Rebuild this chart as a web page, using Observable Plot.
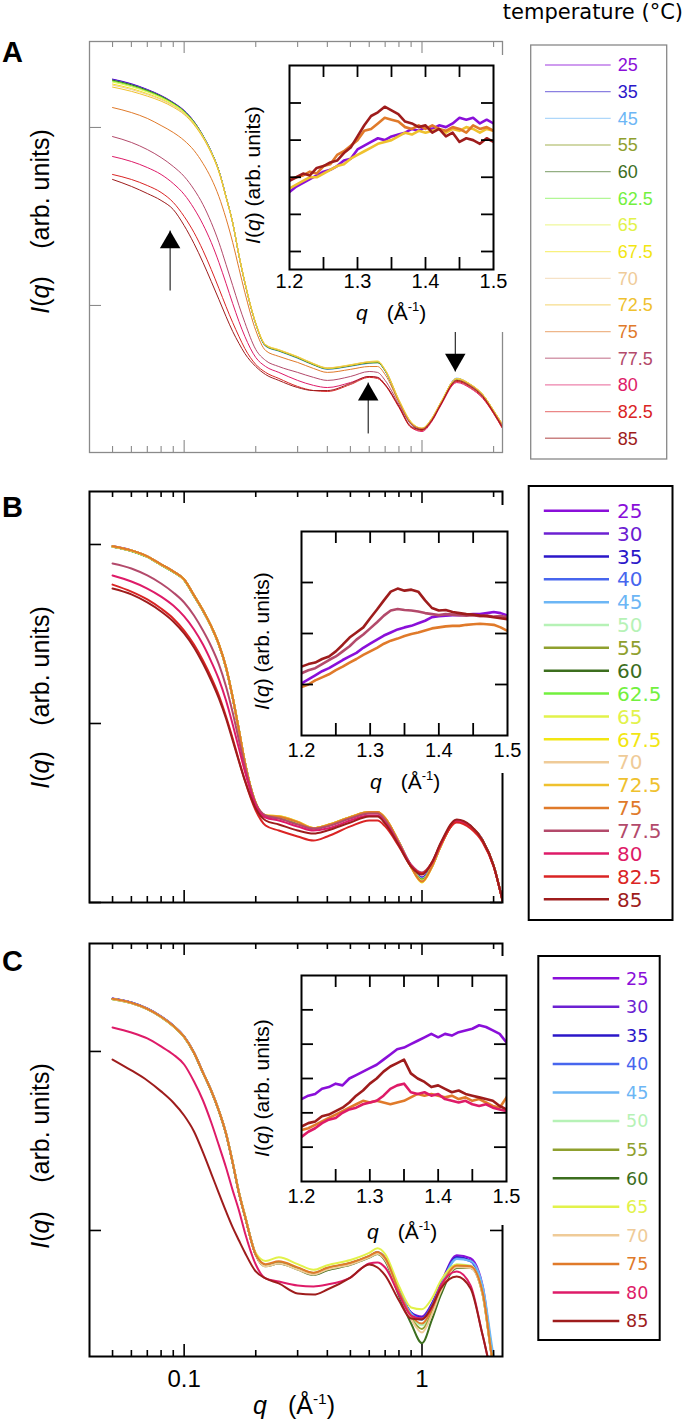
<!DOCTYPE html>
<html><head><meta charset="utf-8">
<script src="https://cdn.jsdelivr.net/npm/d3@7"></script>
<script src="https://cdn.jsdelivr.net/npm/@observablehq/plot@0.6"></script>
<style>
body{margin:0;background:#fff;}
#fig{position:relative;width:686px;height:1424px;overflow:hidden;background:#fff;}
</style></head><body><div id="fig"></div>
<script>
// ---------- DATA ----------
const qMain = [0.05,0.06,0.07,0.08,0.09,0.1,0.11,0.12,0.13,0.14,0.15,0.16,0.17,0.18,0.2,0.22,0.25,0.3,0.35,0.4,0.5,0.6,0.65,0.7,0.8,0.9,1.0,1.1,1.2,1.4,1.6,1.8,2.0,2.18];
const qIn = [1.20,1.21,1.22,1.23,1.24,1.25,1.26,1.27,1.28,1.29,1.30,1.31,1.32,1.33,1.34,1.35,1.36,1.37,1.38,1.39,1.40,1.41,1.42,1.43,1.44,1.45,1.46,1.47,1.48,1.49,1.50];

const tempsA = ["25","35","45","55","60","62.5","65","67.5","70","72.5","75","77.5","80","82.5","85"];
const tempsB = ["25","30","35","40","45","50","55","60","62.5","65","67.5","70","72.5","75","77.5","80","82.5","85"];
const tempsC = ["25","30","35","40","45","50","55","60","65","70","75","80","85"];

const colors = {"25":"#8a0fd9","30":"#6c21d2","35":"#2b17c9","40":"#4766ee","45":"#6cb6f5","50":"#b6f2b6","55":"#8fa02e","60":"#3c6e1e","62.5":"#72f03e","65":"#e2f24a","67.5":"#f2e612","70":"#efcb98","72.5":"#efc12e","75":"#e07a2a","77.5":"#b34a6b","80":"#de1b68","82.5":"#da2424","85":"#9e1c1c"};

// Panel A: log10 I(q), arbitrary units
const A_25  = [2.272,2.246,2.214,2.180,2.141,2.096,2.034,1.955,1.865,1.758,1.612,1.466,1.281,1.129,0.899,0.775,0.747,0.708,0.669,0.646,0.663,0.680,0.680,0.635,0.466,0.343,0.309,0.365,0.455,0.590,0.556,0.500,0.410,0.331];
const A_35  = [2.270,2.244,2.212,2.178,2.139,2.094,2.033,1.954,1.864,1.757,1.611,1.465,1.281,1.128,0.898,0.772,0.745,0.705,0.667,0.643,0.660,0.677,0.682,0.633,0.463,0.340,0.306,0.362,0.452,0.586,0.553,0.497,0.407,0.328];
const A_45  = [2.266,2.240,2.209,2.176,2.137,2.092,2.031,1.953,1.863,1.756,1.611,1.464,1.280,1.128,0.897,0.770,0.743,0.703,0.665,0.641,0.658,0.675,0.678,0.630,0.460,0.338,0.304,0.359,0.450,0.592,0.551,0.495,0.405,0.326];
const A_55  = [2.263,2.237,2.206,2.174,2.135,2.090,2.029,1.951,1.862,1.755,1.610,1.464,1.280,1.127,0.897,0.773,0.746,0.706,0.667,0.645,0.662,0.678,0.679,0.633,0.462,0.337,0.302,0.360,0.452,0.588,0.554,0.498,0.408,0.328];
const A_60  = [2.266,2.240,2.209,2.176,2.137,2.092,2.031,1.953,1.863,1.756,1.611,1.465,1.281,1.129,0.898,0.774,0.746,0.707,0.668,0.644,0.661,0.678,0.679,0.634,0.464,0.335,0.300,0.362,0.453,0.589,0.555,0.498,0.408,0.330];
const A_62_5= [2.260,2.234,2.203,2.171,2.133,2.089,2.028,1.951,1.862,1.755,1.610,1.464,1.280,1.128,0.898,0.776,0.748,0.709,0.670,0.646,0.664,0.681,0.683,0.636,0.466,0.343,0.308,0.364,0.454,0.588,0.555,0.499,0.409,0.330];
const A_65  = [2.255,2.229,2.199,2.167,2.130,2.086,2.026,1.950,1.861,1.754,1.610,1.465,1.282,1.130,0.900,0.778,0.750,0.711,0.672,0.648,0.665,0.683,0.685,0.638,0.468,0.345,0.310,0.366,0.456,0.589,0.556,0.500,0.410,0.331];
const A_67_5= [2.244,2.219,2.190,2.160,2.124,2.081,2.022,1.947,1.859,1.753,1.610,1.466,1.284,1.132,0.902,0.780,0.752,0.713,0.674,0.650,0.667,0.685,0.688,0.640,0.470,0.346,0.311,0.367,0.457,0.590,0.557,0.501,0.411,0.332];
const A_70  = [2.238,2.213,2.185,2.156,2.121,2.079,2.020,1.946,1.858,1.752,1.609,1.465,1.283,1.131,0.901,0.779,0.751,0.712,0.673,0.649,0.666,0.684,0.686,0.639,0.469,0.344,0.309,0.366,0.456,0.589,0.556,0.500,0.410,0.331];
const A_72_5= [2.227,2.203,2.176,2.148,2.114,2.073,2.015,1.942,1.855,1.750,1.607,1.463,1.282,1.130,0.900,0.777,0.749,0.710,0.671,0.647,0.664,0.682,0.684,0.637,0.467,0.342,0.307,0.364,0.454,0.588,0.555,0.499,0.409,0.330];
const A_75  = [2.112,2.084,2.051,2.011,1.972,1.927,1.871,1.798,1.714,1.612,1.489,1.354,1.208,1.073,0.860,0.747,0.714,0.680,0.646,0.624,0.641,0.657,0.657,0.612,0.455,0.337,0.309,0.360,0.449,0.579,0.551,0.494,0.404,0.326];
const A_77_5= [1.949,1.916,1.876,1.831,1.781,1.725,1.652,1.567,1.466,1.354,1.230,1.112,1.000,0.904,0.753,0.691,0.657,0.624,0.596,0.579,0.601,0.629,0.624,0.579,0.444,0.331,0.303,0.354,0.444,0.573,0.545,0.489,0.399,0.320];
const A_80  = [1.837,1.809,1.775,1.736,1.685,1.624,1.545,1.455,1.354,1.242,1.124,1.011,0.910,0.826,0.708,0.657,0.624,0.579,0.551,0.539,0.567,0.601,0.596,0.556,0.433,0.315,0.292,0.348,0.438,0.567,0.534,0.478,0.393,0.309];
const A_82_5= [1.736,1.708,1.674,1.635,1.579,1.500,1.410,1.309,1.202,1.096,0.994,0.904,0.826,0.758,0.669,0.624,0.590,0.545,0.522,0.517,0.556,0.596,0.590,0.551,0.427,0.315,0.298,0.354,0.444,0.573,0.539,0.483,0.393,0.309];
const A_85  = [1.708,1.669,1.629,1.590,1.539,1.449,1.348,1.242,1.135,1.034,0.938,0.854,0.787,0.730,0.657,0.612,0.579,0.539,0.522,0.522,0.562,0.601,0.596,0.556,0.433,0.320,0.303,0.354,0.444,0.579,0.545,0.489,0.399,0.315];

// Panel B
const B_25  = [1.991,1.967,1.934,1.889,1.850,1.805,1.716,1.632,1.543,1.442,1.314,1.146,0.962,0.783,0.553,0.478,0.474,0.445,0.412,0.431,0.474,0.501,0.504,0.470,0.337,0.205,0.140,0.205,0.320,0.460,0.427,0.348,0.208,0.012];
const B_30  = [1.990,1.966,1.933,1.888,1.849,1.804,1.715,1.631,1.542,1.441,1.313,1.145,0.961,0.782,0.552,0.479,0.475,0.446,0.413,0.430,0.475,0.502,0.503,0.469,0.336,0.204,0.138,0.203,0.319,0.459,0.426,0.347,0.207,0.011];
const B_35  = [1.989,1.965,1.932,1.887,1.848,1.803,1.714,1.630,1.541,1.440,1.312,1.144,0.960,0.781,0.552,0.478,0.474,0.446,0.412,0.429,0.474,0.502,0.502,0.468,0.335,0.203,0.136,0.204,0.320,0.461,0.427,0.347,0.208,0.012];
const B_40  = [1.988,1.965,1.932,1.887,1.848,1.803,1.714,1.630,1.541,1.440,1.312,1.144,0.961,0.782,0.553,0.480,0.476,0.447,0.414,0.431,0.476,0.503,0.503,0.469,0.335,0.202,0.134,0.202,0.319,0.460,0.426,0.347,0.207,0.011];
const B_45  = [1.988,1.964,1.931,1.886,1.847,1.802,1.714,1.630,1.541,1.440,1.312,1.145,0.962,0.783,0.554,0.480,0.475,0.446,0.413,0.430,0.475,0.502,0.503,0.469,0.334,0.201,0.132,0.201,0.318,0.459,0.426,0.347,0.208,0.012];
const B_50  = [1.987,1.964,1.931,1.886,1.847,1.802,1.713,1.629,1.541,1.440,1.312,1.145,0.961,0.782,0.553,0.481,0.476,0.447,0.414,0.430,0.476,0.503,0.503,0.469,0.334,0.200,0.130,0.200,0.318,0.458,0.425,0.346,0.207,0.011];
const B_55  = [1.988,1.965,1.932,1.887,1.848,1.803,1.714,1.630,1.541,1.440,1.312,1.145,0.961,0.782,0.554,0.481,0.477,0.448,0.414,0.431,0.476,0.504,0.504,0.470,0.335,0.199,0.128,0.199,0.317,0.457,0.424,0.345,0.206,0.011];
const B_60  = [1.987,1.964,1.931,1.886,1.847,1.802,1.714,1.630,1.541,1.440,1.312,1.144,0.961,0.782,0.553,0.480,0.476,0.447,0.413,0.430,0.475,0.503,0.503,0.469,0.334,0.199,0.126,0.199,0.317,0.457,0.424,0.345,0.206,0.011];
const B_62_5= [1.988,1.965,1.932,1.887,1.848,1.803,1.715,1.631,1.542,1.441,1.313,1.145,0.961,0.782,0.554,0.482,0.478,0.448,0.414,0.431,0.476,0.504,0.504,0.470,0.335,0.200,0.124,0.200,0.318,0.458,0.425,0.346,0.207,0.011];
const B_65  = [1.988,1.965,1.932,1.887,1.848,1.803,1.715,1.631,1.542,1.441,1.313,1.145,0.962,0.783,0.555,0.484,0.480,0.450,0.415,0.432,0.477,0.505,0.505,0.471,0.336,0.199,0.120,0.199,0.317,0.457,0.424,0.345,0.206,0.011];
const B_67_5= [1.989,1.966,1.933,1.888,1.849,1.804,1.716,1.632,1.543,1.442,1.314,1.146,0.963,0.784,0.556,0.487,0.483,0.452,0.416,0.433,0.478,0.506,0.506,0.472,0.336,0.198,0.112,0.198,0.316,0.456,0.423,0.344,0.205,0.010];
const B_70  = [1.989,1.966,1.933,1.888,1.849,1.804,1.715,1.631,1.542,1.441,1.313,1.145,0.962,0.783,0.555,0.485,0.481,0.450,0.415,0.432,0.477,0.505,0.505,0.471,0.335,0.199,0.118,0.199,0.317,0.457,0.424,0.345,0.206,0.011];
const B_72_5= [1.990,1.967,1.934,1.889,1.850,1.805,1.716,1.632,1.543,1.442,1.314,1.146,0.963,0.784,0.556,0.486,0.482,0.451,0.416,0.433,0.478,0.506,0.506,0.472,0.336,0.198,0.115,0.198,0.316,0.456,0.423,0.344,0.205,0.010];
const B_75  = [1.990,1.967,1.934,1.889,1.850,1.805,1.716,1.632,1.543,1.442,1.314,1.146,0.962,0.783,0.555,0.484,0.479,0.449,0.415,0.432,0.477,0.505,0.505,0.471,0.335,0.199,0.117,0.199,0.317,0.457,0.424,0.345,0.206,0.011];
const B_77_5= [1.894,1.866,1.827,1.782,1.732,1.676,1.603,1.519,1.430,1.330,1.207,1.061,0.905,0.760,0.553,0.486,0.469,0.436,0.413,0.425,0.469,0.497,0.497,0.458,0.330,0.212,0.168,0.223,0.330,0.458,0.425,0.346,0.207,0.011];
const B_80  = [1.827,1.793,1.754,1.709,1.659,1.598,1.525,1.441,1.346,1.246,1.128,0.994,0.860,0.732,0.542,0.475,0.458,0.425,0.402,0.413,0.458,0.486,0.486,0.447,0.324,0.207,0.162,0.218,0.324,0.452,0.419,0.341,0.201,0.011];
const B_82_5= [1.776,1.737,1.693,1.642,1.587,1.519,1.441,1.352,1.257,1.156,1.039,0.916,0.793,0.682,0.514,0.430,0.402,0.369,0.346,0.369,0.425,0.458,0.458,0.425,0.313,0.201,0.162,0.223,0.330,0.447,0.413,0.335,0.201,0.011];
const B_85  = [1.754,1.721,1.676,1.626,1.570,1.503,1.425,1.335,1.240,1.140,1.028,0.905,0.788,0.682,0.525,0.458,0.436,0.402,0.385,0.402,0.447,0.480,0.480,0.441,0.318,0.201,0.156,0.223,0.335,0.464,0.430,0.346,0.207,0.011];

// Panel C
const C_25 = [2.296,2.274,2.240,2.196,2.145,2.084,1.994,1.883,1.782,1.670,1.542,1.380,1.212,1.084,0.866,0.804,0.821,0.788,0.760,0.788,0.816,0.855,0.877,0.844,0.665,0.542,0.520,0.592,0.704,0.862,0.845,0.690,0.260,0.050];
const C_30 = [2.295,2.273,2.239,2.195,2.144,2.083,1.993,1.882,1.781,1.669,1.541,1.379,1.211,1.083,0.865,0.803,0.820,0.787,0.759,0.787,0.815,0.854,0.876,0.843,0.664,0.540,0.515,0.588,0.700,0.852,0.830,0.660,0.240,0.050];
const C_35 = [2.294,2.272,2.238,2.194,2.143,2.082,1.993,1.882,1.781,1.669,1.541,1.379,1.211,1.083,0.866,0.805,0.822,0.789,0.761,0.789,0.817,0.856,0.878,0.845,0.666,0.541,0.512,0.585,0.698,0.850,0.830,0.665,0.250,0.050];
const C_40 = [2.295,2.273,2.239,2.195,2.144,2.083,1.993,1.882,1.781,1.669,1.541,1.379,1.211,1.083,0.865,0.804,0.821,0.788,0.760,0.788,0.816,0.855,0.877,0.844,0.664,0.538,0.508,0.582,0.695,0.845,0.828,0.668,0.255,0.050];
const C_45 = [2.294,2.272,2.238,2.194,2.143,2.082,1.992,1.881,1.780,1.668,1.540,1.378,1.210,1.082,0.865,0.804,0.821,0.788,0.760,0.788,0.816,0.855,0.877,0.844,0.663,0.535,0.500,0.575,0.690,0.840,0.830,0.690,0.300,0.080];
const C_50 = [2.293,2.271,2.237,2.193,2.142,2.081,1.992,1.881,1.780,1.668,1.540,1.378,1.210,1.082,0.866,0.806,0.823,0.790,0.762,0.790,0.818,0.856,0.876,0.840,0.655,0.520,0.470,0.550,0.670,0.810,0.805,0.650,0.240,0.050];
const C_55 = [2.293,2.271,2.237,2.193,2.142,2.081,1.991,1.880,1.779,1.667,1.539,1.377,1.209,1.081,0.865,0.806,0.822,0.789,0.761,0.789,0.817,0.855,0.875,0.838,0.650,0.510,0.450,0.540,0.665,0.800,0.798,0.645,0.235,0.050];
const C_60 = [2.292,2.270,2.236,2.192,2.141,2.080,1.991,1.880,1.779,1.667,1.539,1.377,1.209,1.081,0.864,0.800,0.815,0.782,0.752,0.778,0.808,0.848,0.868,0.830,0.635,0.480,0.370,0.500,0.640,0.790,0.790,0.640,0.230,0.050];
const C_65 = [2.292,2.270,2.236,2.192,2.141,2.080,1.992,1.882,1.782,1.671,1.544,1.383,1.216,1.089,0.874,0.830,0.850,0.812,0.780,0.806,0.835,0.875,0.900,0.868,0.690,0.570,0.560,0.620,0.720,0.810,0.800,0.640,0.235,0.050];
const C_70 = [2.293,2.271,2.237,2.193,2.142,2.081,1.992,1.881,1.780,1.668,1.540,1.378,1.210,1.082,0.864,0.800,0.815,0.782,0.754,0.782,0.810,0.850,0.870,0.836,0.650,0.505,0.430,0.530,0.660,0.795,0.790,0.640,0.230,0.050];
const C_75 = [2.294,2.272,2.238,2.194,2.143,2.082,1.993,1.882,1.781,1.669,1.541,1.379,1.211,1.083,0.866,0.812,0.828,0.794,0.764,0.792,0.820,0.858,0.880,0.846,0.660,0.525,0.480,0.560,0.680,0.805,0.800,0.650,0.235,0.050];
const C_80 = [2.134,2.106,2.073,2.028,1.983,1.927,1.832,1.726,1.603,1.475,1.352,1.224,1.112,0.989,0.810,0.732,0.715,0.693,0.687,0.698,0.737,0.816,0.821,0.793,0.642,0.525,0.508,0.570,0.693,0.771,0.693,0.413,0.162,0.050];
const C_85 = [1.955,1.894,1.838,1.777,1.715,1.642,1.553,1.436,1.318,1.207,1.106,1.017,0.944,0.877,0.771,0.732,0.704,0.648,0.642,0.670,0.737,0.810,0.793,0.749,0.609,0.508,0.503,0.575,0.676,0.743,0.676,0.413,0.162,0.050];

// Insets (linear arbitrary units)
const InA_25  = [1.6,1.75,1.85,1.95,2.05,2.15,2.2,2.3,2.45,2.5,2.75,2.85,2.95,3.05,3.0,3.1,3.15,3.2,3.3,3.25,3.35,3.3,3.4,3.35,3.45,3.6,3.55,3.6,3.45,3.55,3.45];
const InA_72_5= [1.7,1.8,1.9,2.0,2.0,2.1,2.2,2.3,2.35,2.5,2.6,2.7,2.8,2.9,2.95,3.0,3.1,3.2,3.15,3.25,3.2,3.25,3.3,3.2,3.3,3.25,3.35,3.3,3.2,3.3,3.25];
const InA_75  = [1.95,2.0,2.05,2.15,2.1,2.3,2.35,2.6,2.7,2.85,3.0,3.25,3.3,3.45,3.6,3.55,3.5,3.35,3.3,3.4,3.3,3.4,3.3,3.25,3.35,3.3,3.2,3.4,3.3,3.35,3.25];
const InA_85  = [1.9,2.0,2.1,2.05,2.25,2.3,2.4,2.45,2.65,2.8,3.1,3.4,3.65,3.75,3.9,3.8,3.7,3.5,3.45,3.35,3.4,3.2,3.3,3.1,3.2,2.95,3.05,3.0,2.9,3.05,2.95];

const InB_25  = [1.02,1.10,1.18,1.26,1.32,1.40,1.48,1.55,1.62,1.72,1.80,1.88,1.96,2.02,2.08,2.12,2.15,2.20,2.25,2.32,2.34,2.35,2.36,2.36,2.37,2.38,2.38,2.40,2.42,2.40,2.35];
const InB_75  = [0.95,1.00,1.08,1.14,1.20,1.28,1.35,1.43,1.50,1.58,1.65,1.72,1.80,1.86,1.90,1.95,1.99,2.02,2.06,2.10,2.12,2.14,2.15,2.15,2.17,2.18,2.19,2.18,2.17,2.12,2.05];
const InB_77_5= [1.22,1.28,1.32,1.40,1.48,1.55,1.65,1.75,1.88,1.98,2.10,2.22,2.35,2.45,2.48,2.46,2.45,2.43,2.40,2.38,2.36,2.38,2.37,2.36,2.35,2.36,2.34,2.35,2.33,2.34,2.32];
const InB_85  = [1.35,1.40,1.43,1.50,1.55,1.65,1.78,1.92,2.02,2.12,2.30,2.47,2.65,2.82,2.88,2.84,2.86,2.82,2.65,2.50,2.45,2.46,2.42,2.40,2.38,2.37,2.35,2.34,2.32,2.30,2.28];

const InC_25  = [2.40,2.50,2.55,2.70,2.75,2.85,2.80,3.00,3.10,3.20,3.30,3.40,3.55,3.70,3.85,3.90,4.00,4.10,4.20,4.30,4.20,4.30,4.25,4.35,4.40,4.45,4.55,4.50,4.40,4.30,4.05];
const InC_75  = [1.50,1.55,1.65,1.75,1.85,1.95,2.05,2.15,2.25,2.35,2.30,2.35,2.30,2.25,2.30,2.35,2.45,2.55,2.50,2.55,2.50,2.45,2.50,2.40,2.45,2.35,2.40,2.30,2.20,2.15,2.45];
const InC_80  = [1.30,1.45,1.55,1.70,1.80,1.85,2.00,2.10,2.15,2.25,2.30,2.35,2.50,2.70,2.80,2.85,2.60,2.55,2.60,2.50,2.55,2.40,2.35,2.30,2.35,2.25,2.20,2.25,2.15,2.10,2.05];
const InC_85  = [1.60,1.70,1.75,1.90,1.95,2.05,2.15,2.30,2.50,2.65,2.85,3.00,3.20,3.35,3.45,3.55,3.15,3.00,2.90,2.75,2.80,2.70,2.60,2.65,2.55,2.50,2.45,2.40,2.35,2.20,2.10];

// Tick values
const xMajor = [0.1, 1];
const xMinor = [0.05,0.06,0.07,0.08,0.09,0.2,0.3,0.4,0.5,0.6,0.7,0.8,0.9,2];
const xMainLabels = [0.1, 1];
const yTicksA = [1, 2], yTicksB = [0, 1, 2], yTicksC = [1, 2];
const xInTicks = [1.25,1.3,1.35,1.4,1.45];
const xInLabels = [1.2,1.3,1.4,1.5];
const yInTicksA = [0,1,2,3,4], yInTicksB = [1,2,3], yInTicksC = [1,2,3,4,5];

// Arrow annotations in panel A (q, log I)
const arrowQ    = [0.0873, 0.594, 1.38];
const arrowFrom = [1.084, 0.281, 0.961];
const arrowTo   = [1.421, 0.567, 0.629];
const arrowHead = [1.354, 0.500, 0.696];
const arrowRot  = [0, 0, 180];

// ---------- BUILD ----------
const SANS = "'Liberation Sans', Arial, Helvetica, sans-serif";
const DEJAVU = "'DejaVu Sans', Verdana, sans-serif";
const fig = document.getElementById("fig");

function place(node, left, top, w, h) {
  const d = document.createElement("div");
  d.style.position = "absolute"; d.style.left = left + "px"; d.style.top = top + "px";
  d.style.width = w + "px"; d.style.height = h + "px";
  d.appendChild(node); fig.appendChild(d); return d;
}
function whiteBox(left, top, w, h) {
  const d = document.createElement("div");
  d.style.cssText = `position:absolute;left:${left}px;top:${top}px;width:${w}px;height:${h}px;background:#fff;`;
  fig.appendChild(d);
}
function rows(temps, series, qs) {
  const out = [];
  for (const t of temps) series[t].forEach((v, i) => out.push({q: qs[i], v, t}));
  return out;
}

function mainPlot(cfg) {
  const fw = 686 - 89 - 184, fh = cfg.height - cfg.mt - cfg.mb;
  const tk = {stroke: cfg.frame, strokeWidth: cfg.tw};
  const marks = [
    Plot.line(rows(cfg.temps, cfg.series, qMain), {x: "q", y: "v", z: "t", stroke: "t", strokeWidth: cfg.lw, curve: "monotone-x", clip: true}),
    Plot.ruleX(xMinor, {insetTop: fh - 6, ...tk}),
    Plot.ruleX(xMinor, {insetBottom: fh - 6, ...tk}),
    Plot.ruleX(xMajor, {insetTop: fh - 12, ...tk}),
    Plot.ruleX(xMajor, {insetBottom: fh - 12, ...tk}),
    Plot.ruleY(cfg.yTicks, {insetRight: fw - 12, ...tk}),
    Plot.ruleY(cfg.yTicks, {insetLeft: fw - 12, ...tk}),
    Plot.frame({stroke: cfg.frame, strokeWidth: cfg.fwid}),
    ...(cfg.extra || [])
  ];
  const p = Plot.plot({
    width: 686, height: cfg.height,
    marginLeft: 89, marginRight: 184, marginTop: cfg.mt, marginBottom: cfg.mb,
    x: {type: "log", domain: [0.04, 2.18], axis: null},
    y: {domain: cfg.yDomain, axis: null},
    color: {type: "ordinal", domain: cfg.temps, range: cfg.temps.map(t => colors[t])},
    style: {background: "transparent", fontFamily: SANS, overflow: "visible"},
    marks
  });
  place(p, 0, cfg.top, 686, cfg.height);
}

function insetPlot(cfg) {
  const fw = cfg.fw, fh = cfg.fh;
  const tk = {stroke: "#000", strokeWidth: 1.8};
  const p = Plot.plot({
    width: cfg.w, height: cfg.h,
    marginLeft: cfg.ml, marginTop: cfg.mt, marginRight: cfg.w - cfg.ml - fw, marginBottom: cfg.h - cfg.mt - fh,
    x: {domain: [1.2, 1.5], axis: null},
    y: {domain: cfg.yDomain, axis: null},
    color: {type: "ordinal", domain: cfg.temps, range: cfg.temps.map(t => colors[t])},
    style: {background: "transparent", fontFamily: SANS, overflow: "visible"},
    marks: [
      Plot.line(rows(cfg.temps, cfg.series, qIn), {x: "q", y: "v", z: "t", stroke: "t", strokeWidth: 2.6, clip: true}),
      Plot.ruleX(xInTicks, {insetTop: fh - 12, ...tk}),
      Plot.ruleX(xInTicks, {insetBottom: fh - 12, ...tk}),
      Plot.ruleY(cfg.yTicks, {insetRight: fw - 12, ...tk}),
      Plot.ruleY(cfg.yTicks, {insetLeft: fw - 12, ...tk}),
      Plot.frame({stroke: "#000", strokeWidth: 2}),
      Plot.text(xInLabels, {x: d => d, frameAnchor: "bottom", dy: cfg.labDy, text: d => d.toFixed(1), fontSize: 20, fill: "#000"})
    ]
  });
  place(p, cfg.left, cfg.top, cfg.w, cfg.h);
}

// Main panels
const arrowData = arrowQ.map((q, i) => ({q, a: arrowFrom[i], b: arrowTo[i], h: arrowHead[i], r: arrowRot[i]}));
mainPlot({
  top: 0, height: 470, mt: 41, mb: 18, yDomain: [0.174, 2.483], yTicks: yTicksA,
  frame: "#8a8a8a", fwid: 1.3, tw: 1.1, lw: 1,
  temps: tempsA,
  series: {"25":A_25,"35":A_35,"45":A_45,"55":A_55,"60":A_60,"62.5":A_62_5,"65":A_65,"67.5":A_67_5,"70":A_70,"72.5":A_72_5,"75":A_75,"77.5":A_77_5,"80":A_80,"82.5":A_82_5,"85":A_85},
  extra: [
    Plot.link(arrowData, {x1: "q", x2: "q", y1: "a", y2: "b", stroke: "#000", strokeWidth: 1}),
    Plot.dot(arrowData, {x: "q", y: "h", symbol: "triangle", r: 7.6, fill: "#000", stroke: "none", rotate: "r"})
  ]
});
mainPlot({
  top: 470, height: 470, mt: 21, mb: 38, yDomain: [0, 2.296], yTicks: yTicksB,
  frame: "#000", fwid: 2, tw: 1.6, lw: 2,
  temps: tempsB,
  series: {"25":B_25,"30":B_30,"35":B_35,"40":B_40,"45":B_45,"50":B_50,"55":B_55,"60":B_60,"62.5":B_62_5,"65":B_65,"67.5":B_67_5,"70":B_70,"72.5":B_72_5,"75":B_75,"77.5":B_77_5,"80":B_80,"82.5":B_82_5,"85":B_85}
});
mainPlot({
  top: 940, height: 484, mt: 3, mb: 68, yDomain: [0.296, 2.603], yTicks: yTicksC,
  frame: "#000", fwid: 2, tw: 1.6, lw: 2,
  temps: tempsC,
  series: {"25":C_25,"30":C_30,"35":C_35,"40":C_40,"45":C_45,"50":C_50,"55":C_55,"60":C_60,"65":C_65,"70":C_70,"75":C_75,"80":C_80,"85":C_85},
  extra: [
    Plot.text(xMainLabels, {x: d => d, frameAnchor: "bottom", dy: 30, text: d => d < 0.5 ? "0.1" : "1", fontSize: 24, fill: "#000"})
  ]
});

// White areas behind the insets
whiteBox(280, 55, 232, 277);
whiteBox(290, 505, 222, 268);
whiteBox(290, 956, 222, 269);

// Insets
insetPlot({left: 270, top: 55, w: 245, h: 245, ml: 19, mt: 10, fw: 204, fh: 204, yDomain: [-0.485, 5.01], yTicks: yInTicksA, labDy: 18,
  temps: ["25","72.5","75","85"], series: {"25":InA_25,"72.5":InA_72_5,"75":InA_75,"85":InA_85}});
insetPlot({left: 282, top: 521, w: 245, h: 250, ml: 19, mt: 10, fw: 206, fh: 204, yDomain: [0, 4], yTicks: yInTicksB, labDy: 21,
  temps: ["25","75","77.5","85"], series: {"25":InB_25,"75":InB_75,"77.5":InB_77_5,"85":InB_85}});
insetPlot({left: 282, top: 965, w: 245, h: 250, ml: 19, mt: 10, fw: 205, fh: 206, yDomain: [0, 6], yTicks: yInTicksC, labDy: 21.5,
  temps: ["25","75","80","85"], series: {"25":InC_25,"75":InC_75,"80":InC_80,"85":InC_85}});

// Overlay: titles, axis labels, legends
const ov = d3.create("svg").attr("width", 686).attr("height", 1424)
  .style("position", "absolute").style("left", "0px").style("top", "0px").style("pointer-events", "none");
fig.appendChild(ov.node());

function label(x, y, parts, o = {}) {
  const t = ov.append("text").attr("x", x).attr("y", y)
    .attr("font-family", o.family || SANS).attr("font-size", o.size)
    .attr("text-anchor", o.anchor || "start").attr("fill", o.fill || "#000");
  if (o.weight) t.attr("font-weight", o.weight);
  if (o.rotate) t.attr("transform", `rotate(${o.rotate},${x},${y})`);
  if (o.middle) t.attr("dy", "0.35em");
  for (const p of parts) {
    const s = t.append("tspan").text(p.t);
    if (p.i) s.attr("font-style", "italic");
    if (p.dx) s.attr("dx", p.dx);
    if (p.sup) s.attr("font-size", o.size * 0.62).attr("dy", -o.size * 0.42);
    if (p.unsup) s.attr("dy", o.size * 0.42);
  }
  return t;
}
const IQ = [{t: "I", i: 1}, {t: "("}, {t: "q", i: 1}, {t: ")"}];

label(683, 19, [{t: "temperature (°C)"}], {size: 21, anchor: "end", family: DEJAVU});
label(2, 62, [{t: "A"}], {size: 29, weight: "bold"});
label(2, 517, [{t: "B"}], {size: 29, weight: "bold"});
label(2, 971, [{t: "C"}], {size: 29, weight: "bold"});

// main y labels
[[189, 295], [666, 770], [1123, 1230]].forEach(([ya, yi]) => {
  label(40, ya, [{t: "(arb. units)"}], {size: 25, anchor: "middle", rotate: -90, middle: true});
  label(40, yi, IQ, {size: 25, anchor: "middle", rotate: -90, middle: true});
});
// inset y labels
[[253, 175], [262, 641], [262, 1088]].forEach(([x, y]) => {
  label(x, y, [...IQ, {t: " (arb. units)"}], {size: 21, anchor: "middle", rotate: -90, middle: true});
});
// inset x labels
[[356, 320], [370, 789], [367, 1239]].forEach(([x, y]) => {
  label(x, y, [{t: "q", i: 1}, {t: "(Å", dx: 19}, {t: "-1", sup: 1}, {t: ")", unsup: 1}], {size: 21});
});
// main x label
label(253, 1414, [{t: "q", i: 1}, {t: "(Å", dx: 21}, {t: "-1", sup: 1}, {t: ")", unsup: 1}], {size: 25});

function legend(temps, o) {
  ov.append("rect").attr("x", o.x0).attr("y", o.y0).attr("width", o.x1 - o.x0).attr("height", o.y1 - o.y0)
    .attr("fill", "none").attr("stroke", o.box).attr("stroke-width", o.bw);
  temps.forEach((t, i) => {
    const y = o.r0 + i * o.dr;
    ov.append("line").attr("x1", o.l0).attr("x2", o.l1).attr("y1", y).attr("y2", y)
      .attr("stroke", colors[t]).attr("stroke-width", o.lw).attr("stroke-opacity", o.lo);
    ov.append("text").attr("x", o.tx).attr("y", y).attr("dy", "0.36em")
      .attr("font-family", o.family).attr("font-size", o.fs).attr("fill", colors[t]).text(t);
  });
}
legend(tempsA, {x0: 530.7, x1: 666.7, y0: 45, y1: 459, box: "#888", bw: 1.3, r0: 65, dr: 26.66, l0: 545, l1: 610.7, tx: 617.7, lw: 1.3, lo: 0.55, family: SANS, fs: 18});
legend(tempsB, {x0: 528.7, x1: 672.5, y0: 486, y1: 920, box: "#000", bw: 2, r0: 510.7, dr: 22.86, l0: 543.8, l1: 609, tx: 617, lw: 2.5, lo: 1, family: DEJAVU, fs: 20});
legend(tempsC, {x0: 538.3, x1: 659.7, y0: 956, y1: 1340, box: "#000", bw: 2, r0: 978.3, dr: 28.56, l0: 552.7, l1: 619.3, tx: 626, lw: 2.5, lo: 1, family: DEJAVU, fs: 17.5});
</script></body></html>
